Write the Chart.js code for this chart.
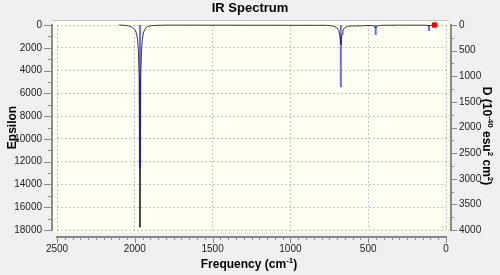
<!DOCTYPE html>
<html><head><meta charset="utf-8">
<script src="https://cdn.jsdelivr.net/npm/chart.js@4.4.0/dist/chart.umd.min.js"></script>
<style>html,body{margin:0;padding:0;background:#f0f0f0;}#wrap{width:500px;height:275px;}</style>
</head><body><div id="wrap"><canvas id="c" width="500" height="275"></canvas></div>
<script>
// ---- data ----
const chartTitle = 'IR Spectrum';
// broadened spectrum (frequency cm-1, epsilon)
const curveFreq = [2100,2060,2040,2015,2000,1990,1982,1977,1972,1967,1962,1957,1952,1945,1935,1920,1895,1850,1800,
                   760,720,700,690,684,679,676,673,668,662,652,632,600,560,525,515,480,462,456,452,448,442,420,300,130,115,109,103,90,50];
const curveEps  = [0,30,80,200,420,700,1300,2300,4500,17760,4500,2300,1300,700,350,150,60,25,10,
                   30,110,260,450,800,1300,1700,1300,800,450,260,110,80,75,70,40,40,90,200,260,200,90,30,10,20,50,70,50,20,0];
// stick spectrum (frequency cm-1, D in 1e-40 esu^2 cm^2)
const stickFreq = [1967, 676, 452, 109];
const stickD    = [2790, 1216, 195, 117];
// selection marker
const markerFreq = [74];
const markerEps  = [0];
// axis ticks
const xTickValues  = [2500, 2000, 1500, 1000, 500, 0];
const yTickValues  = [0, 2000, 4000, 6000, 8000, 10000, 12000, 14000, 16000, 18000];
const y2TickValues = [0, 500, 1000, 1500, 2000, 2500, 3000, 3500, 4000];
const xTitleParts  = [['Frequency (cm',0],['-1',1],[')',0]];
const yTitle = 'Epsilon';
const y2TitleParts = [['D (10',0],['-40',1],[' esu',0],['2',1],[' cm',0],['2',1],[')',0]];

// ---- build datasets ----
const curveData = curveFreq.map((f,i)=>({x:f, y:curveEps[i]}));
const stickData = [];
stickFreq.forEach((f,i)=>{ stickData.push({x:f,y:0},{x:f,y:stickD[i]},{x:f,y:null}); });
const markerData = markerFreq.map((f,i)=>({x:f, y:markerEps[i]}));

const FONT = "'Liberation Sans', Arial, sans-serif";
const AXIS = '#8a8a8a';

function richWidth(ctx, parts){
  let w=0; parts.forEach(([t,s])=>{ ctx.font = s ? 'bold 8px '+FONT : 'bold 12px '+FONT; w += ctx.measureText(t).width; }); return w;
}
function drawRich(ctx, parts, cx, by){
  let x = cx - richWidth(ctx, parts)/2;
  ctx.textAlign='left'; ctx.textBaseline='alphabetic';
  parts.forEach(([t,s])=>{
    ctx.font = s ? 'bold 8px '+FONT : 'bold 12px '+FONT;
    ctx.fillText(t, x, s ? by-5 : by);
    x += ctx.measureText(t).width;
  });
}

const framePlugin = {
  id:'frame',
  beforeDraw(chart){
    const ctx = chart.ctx, a = chart.chartArea;
    ctx.save();
    ctx.fillStyle='#f0f0f0'; ctx.fillRect(0,0,chart.width,chart.height);
    ctx.fillStyle='#fffff4';
    ctx.fillRect(a.left-4, a.top-5, a.right-a.left+7, a.bottom-a.top+8);
    ctx.strokeStyle='#c4c4c4'; ctx.lineWidth=1;
    ctx.beginPath(); ctx.moveTo(a.left-4, a.top-4.5); ctx.lineTo(a.right+3, a.top-4.5); ctx.stroke();
    ctx.restore();
  },
  afterDraw(chart){
    const ctx = chart.ctx, a = chart.chartArea;
    const xs = chart.scales.x, ys = chart.scales.y, y2s = chart.scales.y2;
    ctx.save();
    ctx.strokeStyle = AXIS;
    // axis lines
    ctx.lineWidth = 2;
    ctx.beginPath();
    ctx.moveTo(52, a.top-1); ctx.lineTo(52, a.bottom+1);
    ctx.moveTo(451, a.top-1); ctx.lineTo(451, a.bottom+1);
    ctx.moveTo(a.left-1, 237); ctx.lineTo(a.right+1, 237);
    ctx.stroke();
    ctx.lineWidth = 1;
    ctx.beginPath();
    // left ticks
    for (let v=0; v<=18000; v+=1000){
      const p = Math.round(ys.getPixelForValue(v))+0.5;
      ctx.moveTo(v%2000===0?44:48, p); ctx.lineTo(52, p);
    }
    // right ticks
    for (let v=0; v<=4000; v+=250){
      const p = Math.round(y2s.getPixelForValue(v))+0.5;
      ctx.moveTo(451, p); ctx.lineTo(v%500===0?457:454, p);
    }
    // bottom ticks
    for (let v=0; v<=2500; v+=50){
      const p = Math.round(xs.getPixelForValue(v))+0.5;
      ctx.moveTo(p, 237); ctx.lineTo(p, v%500===0?243:240);
    }
    ctx.stroke();
    // axis titles
    ctx.fillStyle = '#000';
    drawRich(ctx, xTitleParts, 249, 268);
    ctx.save();
    ctx.translate(16, (a.top+a.bottom)/2); ctx.rotate(-Math.PI/2);
    ctx.font = 'bold 12px '+FONT; ctx.textAlign='center'; ctx.textBaseline='alphabetic';
    ctx.fillText(yTitle, 0, 0);
    ctx.restore();
    ctx.save();
    ctx.translate(483, 136); ctx.rotate(Math.PI/2);
    drawRich(ctx, y2TitleParts, 0, 0);
    ctx.restore();
    ctx.restore();
  }
};

const tickFont = {family: FONT, size: 10};
new Chart(document.getElementById('c'), {
  type:'line',
  data:{ datasets:[
    {label:'marker', data:markerData, yAxisID:'y', showLine:false, pointStyle:'rect', pointRadius:3, pointBackgroundColor:'#ff0000', pointBorderColor:'#e00000', pointBorderWidth:1, order:0, clip:10},
    {label:'sticks', data:stickData, yAxisID:'y2', borderColor:'rgba(0,0,255,0.58)', borderWidth:2, pointRadius:0, spanGaps:false, borderCapStyle:'butt', tension:0, order:1, clip:5},
    {label:'spectrum', data:curveData, yAxisID:'y', borderColor:'#3c3c3c', borderWidth:1, pointRadius:0, tension:0, order:2, clip:5}
  ]},
  options:{
    responsive:false, devicePixelRatio:1, animation:false,
    layout:{padding:0},
    plugins:{
      legend:{display:false}, tooltip:{enabled:false},
      title:{display:true, text:chartTitle, color:'#000', font:{family:FONT, size:13, weight:'bold'}, padding:{top:1, bottom:8.4}}
    },
    scales:{
      x:{type:'linear', position:'bottom', min:0, max:2500, reverse:true,
         afterBuildTicks:s=>{ s.ticks = xTickValues.map(v=>({value:v})); },
         ticks:{font:tickFont, color:'#222', padding:13, maxRotation:0, autoSkip:false, callback:v=>String(v)},
         grid:{color:'#c8c8c8', lineWidth:1, drawTicks:false},
         border:{display:false, dash:[2,2]},
         afterFit:s=>{ s.height = 45; }},
      y:{type:'linear', position:'left', min:0, max:18000, reverse:true,
         afterBuildTicks:s=>{ s.ticks = yTickValues.map(v=>({value:v})); },
         ticks:{font:tickFont, color:'#222', padding:15, autoSkip:false, callback:v=>String(v)},
         grid:{color:'#c8c8c8', lineWidth:1, drawTicks:false},
         border:{display:false, dash:[2,2]},
         afterFit:s=>{ s.width = 57; }},
      y2:{type:'linear', position:'right', min:0, max:4000, reverse:true,
         afterBuildTicks:s=>{ s.ticks = y2TickValues.map(v=>({value:v})); },
         ticks:{font:tickFont, color:'#222', padding:13, autoSkip:false, callback:v=>String(v)},
         grid:{display:false, drawTicks:false},
         border:{display:false},
         afterFit:s=>{ s.width = 54; }}
    }
  },
  plugins:[framePlugin]
});
</script>
</body></html>
